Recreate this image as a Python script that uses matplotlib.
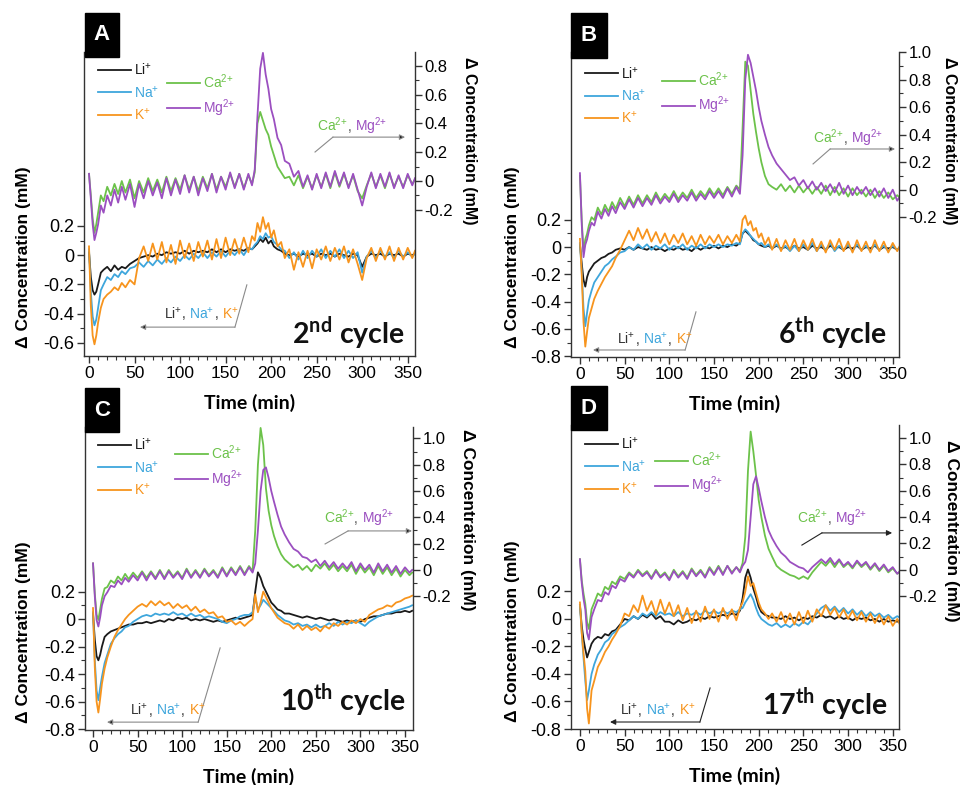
import matplotlib
matplotlib.use('Agg')
import matplotlib.pyplot as plt
from matplotlib.offsetbox import TextArea, HPacker, AnnotationBbox
from matplotlib.patches import Rectangle
from matplotlib.ticker import FixedLocator, FuncFormatter

plt.rcParams['font.family'] = ['Liberation Sans', 'DejaVu Sans']
plt.rcParams['mathtext.fontset'] = 'custom'
plt.rcParams['mathtext.rm'] = 'Liberation Sans'
plt.rcParams['mathtext.bf'] = 'Lato:bold'

# ---- data ----
time_min = [0, 2, 4, 6, 8, 10, 13, 16, 20, 24,
            28, 32, 36, 40, 45, 50, 55, 60, 65, 70,
            75, 80, 85, 90, 95, 100, 105, 110, 115, 120,
            125, 130, 135, 140, 145, 150, 155, 160, 165, 170,
            175, 179, 182, 185, 188, 191, 194, 197, 200, 203,
            207, 211, 215, 220, 225, 230, 235, 240, 245, 250,
            255, 260, 265, 270, 275, 280, 285, 290, 295, 300,
            305, 310, 315, 320, 325, 330, 335, 340, 345, 350,
            355, 358]

ions_mono = ['Li$^{{+}}$', 'Na$^{{+}}$', 'K$^{{+}}$']
ions_di = ['Ca$^{2{+}}$', 'Mg$^{2{+}}$']
cycles = ['2$^{\\mathbf{nd}}$ cycle', '6$^{\\mathbf{th}}$ cycle',
          '10$^{\\mathbf{th}}$ cycle', '17$^{\\mathbf{th}}$ cycle']
letters = ['A', 'B', 'C', 'D']

# panel A (2nd cycle)
a_li = [0.02, -0.15, -0.24, -0.27, -0.25, -0.20, -0.12, -0.10, -0.08, -0.11,
        -0.07, -0.10, -0.08, -0.09, -0.06, -0.04, -0.02, -0.01, 0.00, -0.01,
        0.01, 0.00, 0.02, 0.01, 0.02, 0.01, 0.03, 0.01, 0.03, 0.02,
        0.03, 0.02, 0.04, 0.02, 0.04, 0.02, 0.04, 0.03, 0.04, 0.03,
        0.05, 0.04, 0.06, 0.08, 0.11, 0.09, 0.12, 0.08, 0.10, 0.06,
        0.04, 0.03, 0.01, 0.00, 0.01, -0.01, 0.01, 0.00, 0.01, -0.01,
        0.01, 0.00, 0.01, -0.01, 0.01, 0.00, -0.01, 0.01, 0.00, -0.08,
        -0.01, 0.01, 0.00, 0.01, -0.01, 0.01, 0.00, 0.01, -0.01, 0.01,
        0.00, 0.01]
a_na = [0.04, -0.25, -0.42, -0.48, -0.44, -0.36, -0.24, -0.20, -0.15, -0.17,
        -0.13, -0.15, -0.11, -0.13, -0.09, -0.08, -0.05, -0.08, -0.04, -0.07,
        -0.03, -0.06, -0.02, -0.05, -0.01, -0.04, 0.00, -0.03, 0.01, -0.02,
        0.02, -0.02, 0.02, -0.01, 0.03, -0.01, 0.03, 0.00, 0.04, 0.00,
        0.05, 0.04, 0.07, 0.09, 0.13, 0.11, 0.15, 0.12, 0.13, 0.09,
        0.07, 0.04, 0.03, -0.02, 0.02, -0.03, 0.03, -0.02, 0.03, -0.01,
        0.04, -0.02, 0.03, -0.01, 0.04, -0.02, 0.03, -0.02, 0.02, -0.12,
        -0.01, 0.03, -0.02, 0.03, -0.01, 0.02, -0.02, 0.03, -0.01, 0.02,
        -0.01, 0.01]
a_k = [0.06, -0.35, -0.55, -0.61, -0.55, -0.46, -0.36, -0.30, -0.27, -0.25,
       -0.22, -0.24, -0.19, -0.22, -0.17, -0.20, -0.02, 0.06, -0.04, 0.08,
       -0.03, 0.09, -0.05, 0.07, -0.06, 0.10, -0.02, 0.08, -0.04, 0.09,
       -0.01, 0.10, -0.03, 0.11, -0.02, 0.12, 0.00, 0.11, 0.01, 0.12,
       0.02, 0.13, 0.10, 0.22, 0.16, 0.26, 0.18, 0.22, 0.12, 0.17,
       0.06, 0.09, -0.02, 0.04, -0.10, 0.02, -0.08, 0.03, -0.09, 0.04,
       -0.03, 0.06, -0.04, 0.05, -0.03, 0.06, -0.05, 0.04, -0.06, -0.17,
       -0.02, 0.05, -0.04, 0.05, -0.03, 0.06, -0.04, 0.05, -0.03, 0.05,
       -0.02, 0.03]
a_ca = [0.05, -0.10, -0.26, -0.36, -0.30, -0.22, -0.10, -0.14, -0.04, -0.10,
        -0.02, -0.09, 0.00, -0.08, 0.01, -0.12, 0.00, -0.08, 0.02, -0.07,
        0.01, -0.08, 0.03, -0.07, 0.02, -0.06, 0.04, -0.06, 0.03, -0.07,
        0.03, -0.05, 0.05, -0.06, 0.03, -0.04, 0.05, -0.04, 0.05, -0.05,
        0.04, -0.02, 0.06, 0.40, 0.48, 0.42, 0.36, 0.32, 0.24, 0.18,
        0.10, 0.06, 0.02, 0.03, -0.03, 0.04, -0.05, 0.03, -0.05, 0.04,
        -0.04, 0.05, -0.05, 0.06, -0.04, 0.05, -0.04, 0.04, -0.07, -0.12,
        -0.03, 0.05, -0.04, 0.04, -0.05, 0.05, -0.04, 0.03, -0.04, 0.04,
        -0.02, 0.01]
a_mg = [0.05, -0.12, -0.30, -0.41, -0.36, -0.30, -0.17, -0.22, -0.10, -0.17,
        -0.06, -0.15, -0.04, -0.13, -0.02, -0.18, -0.02, -0.12, 0.00, -0.10,
        -0.01, -0.12, 0.02, -0.10, 0.01, -0.09, 0.04, -0.08, 0.03, -0.10,
        0.02, -0.07, 0.05, -0.08, 0.03, -0.06, 0.06, -0.05, 0.05, -0.06,
        0.05, -0.03, 0.08, 0.45, 0.78, 0.89, 0.74, 0.64, 0.50, 0.43,
        0.30, 0.25, 0.14, 0.12, 0.03, 0.07, -0.04, 0.04, -0.06, 0.05,
        -0.05, 0.06, -0.04, 0.07, -0.03, 0.06, -0.05, 0.05, -0.06, -0.17,
        -0.04, 0.06, -0.05, 0.05, -0.04, 0.06, -0.05, 0.04, -0.05, 0.05,
        -0.03, 0.02]

# panel B (6th cycle)
b_li = [0.02, -0.12, -0.24, -0.29, -0.22, -0.18, -0.15, -0.12, -0.10, -0.08,
        -0.07, -0.05, -0.04, -0.02, -0.01, -0.02, 0.00, -0.02, 0.00, -0.01,
        -0.02, 0.00, -0.02, -0.01, -0.03, -0.01, -0.02, 0.00, -0.02, -0.01,
        -0.03, 0.00, -0.02, 0.00, -0.01, 0.01, -0.01, 0.01, 0.00, 0.02,
        0.01, 0.03, 0.10, 0.12, 0.10, 0.08, 0.05, 0.04, 0.02, 0.01,
        0.00, 0.01, -0.01, 0.01, -0.01, 0.00, -0.02, 0.01, -0.01, 0.00,
        -0.02, 0.01, -0.01, 0.00, -0.02, 0.01, -0.01, 0.00, -0.02, 0.00,
        -0.01, 0.01, -0.02, 0.00, -0.01, 0.01, -0.02, 0.00, -0.01, 0.00,
        -0.02, 0.00]
b_na = [0.03, -0.18, -0.45, -0.58, -0.48, -0.39, -0.32, -0.26, -0.22, -0.18,
        -0.14, -0.12, -0.09, -0.07, -0.04, -0.03, 0.00, -0.02, 0.02, -0.01,
        0.02, -0.02, 0.01, -0.01, 0.02, -0.02, 0.01, -0.01, 0.02, -0.02,
        0.01, -0.01, 0.02, -0.01, 0.02, 0.00, 0.02, 0.00, 0.02, 0.01,
        0.03, 0.02, 0.10, 0.13, 0.11, 0.08, 0.06, 0.04, 0.02, 0.03,
        0.00, 0.02, -0.01, 0.02, -0.02, 0.01, -0.03, 0.01, -0.03, 0.02,
        -0.02, 0.03, -0.03, 0.02, -0.02, 0.03, -0.03, 0.01, -0.02, 0.02,
        -0.03, 0.02, -0.02, 0.01, -0.03, 0.02, -0.02, 0.01, -0.03, 0.01,
        -0.02, 0.00]
b_k = [0.06, -0.20, -0.55, -0.73, -0.62, -0.52, -0.45, -0.38, -0.32, -0.27,
       -0.22, -0.18, -0.14, -0.08, -0.02, 0.05, 0.12, 0.05, 0.14, 0.06,
       0.13, 0.04, 0.11, 0.03, 0.10, 0.02, 0.09, 0.03, 0.10, 0.02,
       0.08, 0.01, 0.09, 0.02, 0.08, 0.03, 0.09, 0.02, 0.08, 0.03,
       0.09, 0.04, 0.20, 0.23, 0.16, 0.19, 0.12, 0.14, 0.07, 0.10,
       0.02, 0.07, -0.02, 0.06, -0.03, 0.05, -0.02, 0.06, -0.03, 0.05,
       -0.02, 0.06, -0.03, 0.04, -0.04, 0.05, -0.02, 0.06, -0.03, 0.04,
       -0.04, 0.05, -0.03, 0.04, -0.04, 0.05, -0.03, 0.04, -0.04, 0.03,
       -0.03, 0.01]
b_ca = [0.10, -0.22, -0.45, -0.36, -0.32, -0.26, -0.20, -0.22, -0.13, -0.18,
        -0.11, -0.16, -0.09, -0.14, -0.06, -0.12, -0.05, -0.11, -0.04, -0.10,
        -0.04, -0.09, -0.02, -0.08, -0.03, -0.07, -0.01, -0.07, -0.02, -0.06,
        0.00, -0.06, -0.01, -0.05, 0.01, -0.04, 0.01, -0.04, 0.02, -0.03,
        0.03, 0.00, 0.45, 0.93, 0.90, 0.72, 0.55, 0.42, 0.30, 0.20,
        0.10, 0.04, 0.02, 0.00, 0.04, -0.01, 0.03, -0.02, 0.03, -0.02,
        0.02, -0.03, 0.02, -0.03, 0.03, -0.04, 0.02, -0.04, 0.01, -0.05,
        0.01, -0.04, 0.00, -0.05, 0.00, -0.06, -0.01, -0.06, -0.02, -0.07,
        -0.04, -0.06]
b_mg = [0.12, -0.25, -0.49, -0.40, -0.36, -0.30, -0.24, -0.26, -0.16, -0.21,
        -0.14, -0.19, -0.12, -0.17, -0.09, -0.14, -0.07, -0.13, -0.06, -0.12,
        -0.06, -0.11, -0.04, -0.10, -0.05, -0.09, -0.03, -0.09, -0.04, -0.08,
        -0.02, -0.08, -0.03, -0.07, -0.01, -0.06, -0.01, -0.06, 0.01, -0.05,
        0.02, -0.03, 0.25, 0.80, 0.98, 0.92, 0.82, 0.72, 0.60, 0.50,
        0.40, 0.31, 0.25, 0.19, 0.15, 0.11, 0.07, 0.09, 0.03, 0.07,
        0.01, 0.06, 0.00, 0.05, -0.01, 0.04, -0.02, 0.05, -0.03, 0.03,
        -0.04, 0.02, -0.03, 0.02, -0.04, 0.01, -0.05, 0.01, -0.06, 0.00,
        -0.08, -0.05]

# panel C (10th cycle)
c_li = [0.04, -0.15, -0.27, -0.30, -0.26, -0.20, -0.13, -0.11, -0.09, -0.08,
        -0.07, -0.06, -0.05, -0.04, -0.04, -0.03, -0.03, -0.02, -0.03, -0.02,
        -0.01, -0.02, 0.00, -0.01, 0.01, 0.00, 0.01, -0.01, 0.00, -0.01,
        0.00, -0.01, -0.02, -0.01, -0.02, -0.01, 0.00, 0.01, 0.00, 0.01,
        0.02, 0.03, 0.20, 0.34, 0.30, 0.24, 0.20, 0.16, 0.12, 0.10,
        0.07, 0.06, 0.04, 0.04, 0.03, 0.02, 0.01, 0.02, 0.01, 0.00,
        0.01, 0.00, -0.01, 0.00, -0.01, -0.02, -0.01, -0.02, -0.01, -0.02,
        0.00, 0.01, 0.02, 0.02, 0.03, 0.04, 0.04, 0.05, 0.05, 0.06,
        0.05, 0.06]
c_na = [0.05, -0.30, -0.52, -0.59, -0.50, -0.42, -0.32, -0.26, -0.18, -0.14,
        -0.11, -0.09, -0.06, -0.05, -0.02, 0.00, 0.02, 0.03, 0.02, 0.04,
        0.03, 0.04, 0.03, 0.05, 0.03, 0.04, 0.02, 0.04, 0.02, 0.03,
        0.01, 0.02, 0.01, 0.00, -0.02, -0.03, -0.01, 0.00, 0.02, 0.03,
        0.03, 0.05, 0.16, 0.07, 0.10, 0.14, 0.12, 0.10, 0.08, 0.06,
        0.03, 0.01, -0.01, -0.02, -0.04, -0.03, -0.05, -0.04, -0.06, -0.04,
        -0.06, -0.05, -0.03, -0.05, -0.02, -0.04, -0.02, -0.03, -0.01, -0.03,
        -0.05, -0.02, 0.00, 0.02, 0.03, 0.04, 0.05, 0.06, 0.07, 0.08,
        0.09, 0.10]
c_k = [0.08, -0.35, -0.60, -0.68, -0.58, -0.47, -0.36, -0.28, -0.20, -0.13,
       -0.08, -0.04, 0.00, 0.03, 0.06, 0.09, 0.11, 0.09, 0.13, 0.10,
       0.13, 0.10, 0.12, 0.08, 0.11, 0.08, 0.10, 0.06, 0.09, 0.05,
       0.07, 0.04, 0.05, 0.01, 0.02, -0.02, -0.01, -0.04, -0.02, -0.05,
       -0.02, 0.00, 0.18, 0.05, 0.12, 0.20, 0.16, 0.12, 0.08, 0.05,
       0.01, -0.01, -0.03, -0.04, -0.07, -0.04, -0.08, -0.05, -0.08, -0.06,
       -0.09, -0.05, -0.07, -0.03, -0.05, -0.02, -0.04, -0.01, -0.03, 0.00,
       -0.02, 0.03, 0.05, 0.07, 0.08, 0.10, 0.09, 0.12, 0.13, 0.15,
       0.16, 0.17]
c_ca = [0.05, -0.18, -0.34, -0.38, -0.30, -0.22, -0.14, -0.13, -0.08, -0.10,
        -0.05, -0.08, -0.03, -0.07, -0.02, -0.06, -0.01, -0.06, -0.01, -0.06,
        0.00, -0.06, 0.00, -0.05, -0.01, -0.06, 0.01, -0.05, 0.00, -0.05,
        0.01, -0.04, 0.00, -0.05, 0.02, -0.04, 0.02, -0.03, 0.03, -0.03,
        0.03, -0.01, 0.30, 0.80, 1.08, 0.95, 0.62, 0.45, 0.34, 0.26,
        0.18, 0.12, 0.08, 0.05, 0.02, 0.04, 0.00, 0.03, -0.01, 0.04,
        0.01, 0.05, 0.00, 0.04, -0.01, 0.03, -0.01, 0.04, -0.03, 0.03,
        -0.02, 0.02, -0.04, 0.03, -0.03, 0.02, -0.04, 0.01, -0.05, 0.00,
        -0.04, -0.02]
c_mg = [0.05, -0.20, -0.38, -0.43, -0.36, -0.27, -0.20, -0.17, -0.12, -0.13,
        -0.08, -0.11, -0.06, -0.09, -0.04, -0.08, -0.02, -0.08, -0.02, -0.07,
        -0.01, -0.07, -0.01, -0.06, -0.02, -0.07, 0.00, -0.06, -0.01, -0.06,
        0.00, -0.05, -0.01, -0.06, 0.01, -0.05, 0.01, -0.04, 0.02, -0.04,
        0.02, -0.02, 0.05, 0.30, 0.60, 0.76, 0.78, 0.70, 0.60, 0.52,
        0.42, 0.33, 0.27, 0.21, 0.16, 0.14, 0.10, 0.09, 0.06, 0.08,
        0.03, 0.07, 0.02, 0.06, 0.01, 0.05, 0.01, 0.06, -0.01, 0.05,
        0.00, 0.04, -0.02, 0.05, -0.01, 0.04, -0.02, 0.03, -0.03, 0.02,
        -0.02, 0.00]

# panel D (17th cycle)
d_li = [0.10, -0.05, -0.15, -0.22, -0.28, -0.24, -0.18, -0.15, -0.13, -0.14,
        -0.11, -0.12, -0.09, -0.08, -0.04, 0.00, -0.01, 0.02, 0.00, 0.03,
        0.01, 0.04, 0.00, 0.02, -0.02, -0.02, -0.04, -0.01, -0.03, -0.02,
        0.00, -0.01, 0.01, 0.00, 0.02, 0.01, 0.02, 0.03, 0.02, 0.04,
        0.03, 0.06, 0.15, 0.30, 0.36, 0.30, 0.22, 0.16, 0.09, 0.05,
        0.03, 0.02, 0.01, 0.01, 0.00, 0.02, 0.00, 0.01, -0.01, 0.01,
        0.00, 0.02, 0.01, 0.03, 0.01, 0.02, 0.00, 0.02, 0.00, 0.01,
        -0.01, 0.01, 0.00, 0.01, -0.01, 0.00, -0.02, 0.00, -0.02, -0.01,
        -0.02, -0.01]
d_na = [0.10, -0.10, -0.28, -0.45, -0.59, -0.52, -0.40, -0.33, -0.26, -0.22,
        -0.17, -0.15, -0.11, -0.09, -0.06, -0.04, -0.01, 0.02, 0.00, 0.04,
        0.02, 0.05, 0.02, 0.05, 0.03, 0.04, 0.02, 0.05, 0.02, 0.04,
        0.03, 0.05, 0.03, 0.06, 0.04, 0.06, 0.04, 0.06, 0.04, 0.06,
        0.05, 0.07, 0.08, 0.12, 0.15, 0.18, 0.14, 0.08, 0.03, 0.00,
        -0.02, -0.04, -0.05, -0.03, -0.06, -0.04, -0.06, -0.03, -0.05, -0.02,
        -0.04, 0.00, 0.04, 0.08, 0.10, 0.06, 0.09, 0.05, 0.08, 0.04,
        0.07, 0.03, 0.06, 0.02, 0.05, 0.02, 0.04, 0.01, 0.03, 0.00,
        0.02, 0.01]
d_k = [0.12, -0.10, -0.25, -0.38, -0.65, -0.76, -0.52, -0.45, -0.35, -0.30,
       -0.24, -0.20, -0.15, -0.11, -0.05, 0.04, 0.02, 0.10, 0.05, 0.17,
       0.06, 0.13, 0.03, 0.14, 0.04, 0.12, 0.02, 0.10, -0.01, 0.08,
       -0.03, 0.06, -0.02, 0.09, 0.00, 0.07, -0.02, 0.08, 0.00, 0.07,
       -0.01, 0.08, 0.12, 0.20, 0.31, 0.24, 0.26, 0.19, 0.12, 0.07,
       0.04, 0.00, 0.04, -0.02, 0.05, -0.03, 0.04, -0.04, 0.05, -0.03,
       0.06, -0.02, 0.07, 0.02, 0.10, 0.03, 0.08, 0.01, 0.07, 0.00,
       0.06, -0.01, 0.05, -0.02, 0.04, -0.03, 0.03, -0.04, 0.02, -0.05,
       0.00, -0.04]
d_ca = [0.08, -0.08, -0.18, -0.26, -0.40, -0.45, -0.30, -0.25, -0.18, -0.20,
        -0.13, -0.15, -0.09, -0.11, -0.05, -0.07, -0.02, -0.05, 0.00, -0.04,
        -0.01, -0.06, 0.00, -0.05, -0.02, -0.07, 0.00, -0.05, -0.01, -0.06,
        0.01, -0.04, 0.00, -0.05, 0.02, -0.03, 0.03, -0.03, 0.03, -0.02,
        0.02, -0.01, 0.05, 0.25, 0.75, 1.05, 0.90, 0.72, 0.53, 0.40,
        0.26, 0.16, 0.10, 0.03, 0.00, -0.02, -0.04, -0.05, -0.07, -0.05,
        -0.07, -0.02, 0.02, 0.06, 0.03, 0.07, 0.02, 0.07, 0.02, 0.05,
        0.01, 0.06, 0.02, 0.05, 0.00, 0.04, -0.01, 0.03, -0.02, 0.01,
        -0.03, -0.02]
d_mg = [0.08, -0.10, -0.22, -0.30, -0.48, -0.53, -0.36, -0.30, -0.23, -0.24,
        -0.17, -0.19, -0.12, -0.14, -0.07, -0.09, -0.03, -0.06, -0.01, -0.05,
        -0.02, -0.07, -0.01, -0.06, -0.03, -0.08, -0.01, -0.06, -0.02, -0.07,
        0.00, -0.05, -0.01, -0.06, 0.01, -0.04, 0.02, -0.04, 0.03, -0.03,
        0.02, -0.02, 0.03, 0.06, 0.15, 0.40, 0.65, 0.71, 0.62, 0.52,
        0.40, 0.30, 0.24, 0.18, 0.13, 0.10, 0.06, 0.04, 0.02, 0.01,
        -0.02, 0.02, 0.05, 0.08, 0.05, 0.09, 0.04, 0.08, 0.03, 0.06,
        0.02, 0.07, 0.03, 0.06, 0.01, 0.05, 0.00, 0.04, -0.01, 0.02,
        -0.03, -0.01]

mono_data = [(a_li, a_na, a_k), (b_li, b_na, b_k), (c_li, c_na, c_k), (d_li, d_na, d_k)]
di_data = [(a_ca, a_mg), (b_ca, b_mg), (c_ca, c_mg), (d_ca, d_mg)]

LI, NA, K = '#1a1a1a', '#3ea6dc', '#f7941d'
CA, MG = '#6cc24a', '#9b4fc0'

W, H = 960, 785

layout = [
    dict(rect=(84, 52, 415, 356), xlim=(-5.5, 358), yl=(-0.69, 1.39), yr=(-1.215, 0.896),
         lmaj=[-0.6, -0.4, -0.2, 0, 0.2], rmaj=[-0.2, 0, 0.2, 0.4, 0.6, 0.8],
         box=(85, 13, 119, 57), leg1=(0.042, 0.967), leg2=(0.251, 0.934),
         ca_path=[(0.698, 0.671), (0.752, 0.720), (0.970, 0.720)], ca_txt=(0.81, 0.757),
         li_path=[(0.492, 0.234), (0.456, 0.095), (0.169, 0.095)], li_txt=(0.354, 0.141),
         cyc=(0.97, 0.076), ylab=(-0.16, 0.326), rlab=(1.142, 0.707), rsize=11.5, lead='#8a8a8a'),
    dict(rect=(571, 52, 899, 357), xlim=(-10, 357), yl=(-0.806, 1.43), yr=(-1.215, 1.0),
         lmaj=[-0.8, -0.6, -0.4, -0.2, 0, 0.2], rmaj=[-0.2, 0, 0.2, 0.4, 0.6, 0.8, 1.0],
         box=(571, 13, 607, 58), leg1=(0.043, 0.957), leg2=(0.277, 0.941),
         ca_path=[(0.738, 0.633), (0.790, 0.682), (0.988, 0.682)], ca_txt=(0.845, 0.718),
         li_path=[(0.381, 0.148), (0.348, 0.023), (0.067, 0.023)], li_txt=(0.256, 0.059),
         cyc=(0.963, 0.079), ylab=(-0.155, 0.328), rlab=(1.131, 0.708), rsize=11.5, lead='#8a8a8a'),
    dict(rect=(85, 427, 413, 730), xlim=(-9, 359), yl=(-0.807, 1.397), yr=(-1.217, 1.087),
         lmaj=[-0.8, -0.6, -0.4, -0.2, 0, 0.2], rmaj=[-0.2, 0, 0.2, 0.4, 0.6, 0.8, 1.0],
         box=(85, 388, 119, 432), leg1=(0.04, 0.967), leg2=(0.274, 0.947),
         ca_path=[(0.732, 0.614), (0.802, 0.657), (0.997, 0.657)], ca_txt=(0.835, 0.700),
         li_path=[(0.412, 0.271), (0.345, 0.026), (0.067, 0.026)], li_txt=(0.253, 0.066),
         cyc=(0.976, 0.099), ylab=(-0.165, 0.323), rlab=(1.143, 0.693), rsize=12.5, lead='#8a8a8a'),
    dict(rect=(571, 425, 899, 729), xlim=(-10, 357), yl=(-0.8, 1.41), yr=(-1.21, 1.10),
         lmaj=[-0.8, -0.6, -0.4, -0.2, 0, 0.2], rmaj=[-0.2, 0, 0.2, 0.4, 0.6, 0.8, 1.0],
         box=(571, 386, 607, 430), leg1=(0.043, 0.964), leg2=(0.256, 0.918),
         ca_path=[(0.704, 0.605), (0.765, 0.645), (0.979, 0.645)], ca_txt=(0.796, 0.694),
         li_path=[(0.424, 0.135), (0.393, 0.023), (0.119, 0.023)], li_txt=(0.265, 0.063),
         cyc=(0.966, 0.08), ylab=(-0.155, 0.323), rlab=(1.137, 0.651), rsize=12.5, lead='#222222'),
]

fmt = FuncFormatter(lambda v, p: '0' if abs(v) < 1e-9 else f'{v:.1f}')


def colored_label(ax, xy, parts, size=10):
    boxes = [TextArea(txt, textprops=dict(color=col, fontsize=size)) for txt, col in parts]
    pack = HPacker(children=boxes, align='baseline', pad=0, sep=0)
    ab = AnnotationBbox(pack, xy, xycoords='axes fraction', frameon=False,
                        box_alignment=(0.5, 0.5), annotation_clip=False)
    ax.add_artist(ab)


def leader(ax, path, color):
    (x0, y0), (x1, y1), (x2, y2) = path
    ax.plot([x0, x1], [y0, y1], transform=ax.transAxes, color=color, lw=0.8, clip_on=False)
    ax.annotate('', xy=(x2, y2), xytext=(x1, y1), xycoords='axes fraction',
                textcoords='axes fraction',
                arrowprops=dict(arrowstyle='-|>', ec=color, fc='#222222', lw=0.8,
                                mutation_scale=8, shrinkA=0, shrinkB=0))


fig = plt.figure(figsize=(W / 100, H / 100), dpi=100)

for i, lay in enumerate(layout):
    x0, y0, x1, y1 = lay['rect']
    ax = fig.add_axes([x0 / W, 1 - y1 / H, (x1 - x0) / W, (y1 - y0) / H])
    ax2 = ax.twinx()

    li, na, k = mono_data[i]
    ca, mg = di_data[i]
    h_li, = ax.plot(time_min, li, color=LI, lw=1.3)
    h_na, = ax.plot(time_min, na, color=NA, lw=1.3)
    h_k, = ax.plot(time_min, k, color=K, lw=1.3)
    h_ca, = ax2.plot(time_min, ca, color=CA, lw=1.3)
    h_mg, = ax2.plot(time_min, mg, color=MG, lw=1.3)

    ax.set_xlim(*lay['xlim'])
    ax.set_ylim(*lay['yl'])
    ax2.set_ylim(*lay['yr'])

    for a in (ax, ax2):
        a.spines['top'].set_visible(False)
        for s in a.spines.values():
            s.set_linewidth(1.0)
            s.set_color('#333333')
    ax.spines['right'].set_visible(False)
    ax2.spines['left'].set_visible(False)
    ax2.spines['bottom'].set_visible(False)

    ax.set_xticks(range(0, 351, 50))
    ax.xaxis.set_minor_locator(FixedLocator(range(0, 351, 10)))
    lmaj = lay['lmaj']
    ax.set_yticks(lmaj)
    ax.yaxis.set_minor_locator(FixedLocator([v + 0.1 for v in lmaj[:-1]]))
    ax.yaxis.set_major_formatter(fmt)
    rmaj = lay['rmaj']
    ax2.set_yticks(rmaj)
    ax2.yaxis.set_minor_locator(FixedLocator([v + 0.1 for v in rmaj[:-1]]))
    ax2.yaxis.set_major_formatter(fmt)

    ax.tick_params(axis='both', which='major', direction='out', length=5, width=1,
                   color='#333333', pad=2)
    ax.tick_params(axis='both', which='minor', direction='out', length=3, width=0.8,
                   color='#333333')
    ax.tick_params(axis='y', labelsize=13)
    ax.tick_params(axis='x', labelsize=12.5)
    ax2.tick_params(axis='y', which='major', direction='out', length=5, width=1,
                    color='#333333', labelsize=12, pad=2)
    ax2.tick_params(axis='y', which='minor', direction='out', length=3, width=0.8,
                    color='#333333')

    ax.set_xlabel('Time (min)', fontsize=14, fontweight='bold', family='Lato')
    ax.xaxis.set_label_coords(0.5, -0.125)
    ax.set_ylabel('Δ Concentration (mM)', fontsize=12.5, fontweight='bold')
    ax.yaxis.set_label_coords(*lay['ylab'])
    ax2.set_ylabel('Δ Concentration (mM)', fontsize=lay['rsize'], fontweight='bold')
    ax2.yaxis.set_label_coords(*lay['rlab'])
    ax2.yaxis.label.set(rotation=-90, va='bottom', ha='center')

    leg_kw = dict(loc='upper left', frameon=False, fontsize=10, handlelength=2.4,
                  handletextpad=0.2, labelspacing=0.45, borderpad=0, borderaxespad=0,
                  labelcolor='linecolor')
    leg1 = ax2.legend([h_li, h_na, h_k], ions_mono, bbox_to_anchor=lay['leg1'], **leg_kw)
    ax2.add_artist(leg1)
    ax2.legend([h_ca, h_mg], ions_di, bbox_to_anchor=lay['leg2'], **leg_kw)

    leader(ax2, lay['ca_path'], lay['lead'])
    leader(ax2, lay['li_path'], lay['lead'])
    colored_label(ax2, lay['ca_txt'], [(ions_di[0], CA), (', ', '#555555'), (ions_di[1], MG)])
    colored_label(ax2, lay['li_txt'], [(ions_mono[0], '#333333'), (', ', '#333333'),
                                       (ions_mono[1], NA), (', ', '#333333'),
                                       (ions_mono[2], K)])

    ax2.text(*lay['cyc'], cycles[i], transform=ax2.transAxes, ha='right', va='center',
             fontsize=20.5, fontweight='bold', family='Lato', color='#111111')

    bx0, by0, bx1, by1 = lay['box']
    fig.add_artist(Rectangle((bx0 / W, 1 - by1 / H), (bx1 - bx0) / W, (by1 - by0) / H,
                             transform=fig.transFigure, color='black', zorder=10))
    fig.text((bx0 + bx1) / 2 / W, 1 - (by0 + by1) / 2 / H, letters[i], color='white',
             fontsize=16, fontweight='bold', ha='center', va='center', zorder=11)

fig.savefig('out.png', dpi=100)
